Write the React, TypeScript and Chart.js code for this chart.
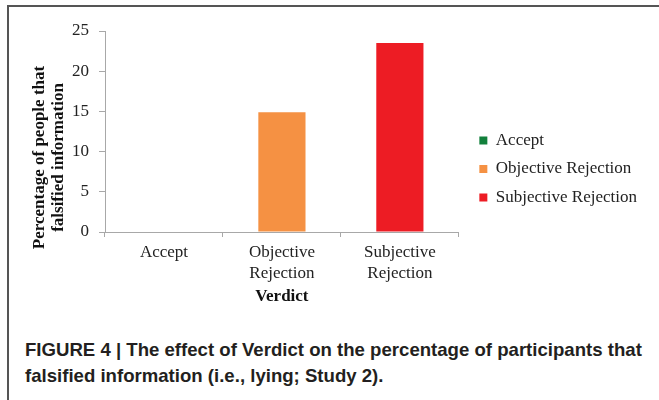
import React, { useEffect, useRef } from "react";
import { Chart, registerables } from "chart.js";

Chart.register(...registerables);

// ---- data ----
const categories: (string | string[])[] = ["Accept", ["Objective", "Rejection"], ["Subjective", "Rejection"]];
const seriesNames = ["Accept", "Objective Rejection", "Subjective Rejection"];
const values = [0, 14.9, 23.5];
const colors = ["#12803c", "#f59143", "#ed1c24"];
const yMin = 0;
const yMax = 25;
const yStep = 5;
const yTitle = ["Percentage of people that", "falsified information"];
const xTitle = "Verdict";
const captionLines = [
  "FIGURE 4 | The effect of Verdict on the percentage of participants that",
  "falsified information (i.e., lying; Study 2).",
];

// Rotated two-line y-axis title, centred a little below the axis centre (as in the source figure)
const yTitlePlugin = {
  id: "yTitleOffset",
  afterDraw(chart: any) {
    const s = chart.scales.y;
    if (!s) return;
    const ctx = chart.ctx;
    const size = 17;
    const lh = 19;
    ctx.save();
    ctx.font = `bold ${size}px 'Liberation Serif', serif`;
    ctx.fillStyle = "#111";
    ctx.textAlign = "center";
    ctx.textBaseline = "middle";
    const cx = s.left + 20 + lh / 2;
    const cy = (s.top + s.bottom) / 2 + 26;
    ctx.translate(cx, cy);
    ctx.rotate(-Math.PI / 2);
    yTitle.forEach((t, i) => ctx.fillText(t, 0, i * lh));
    ctx.restore();
  },
};

export default function App() {
  const ref = useRef<HTMLCanvasElement | null>(null);

  useEffect(() => {
    document.body.style.margin = "0";
    const canvas = ref.current;
    if (!canvas) return;
    const datasets = seriesNames.map((name, i) => ({
      label: name,
      data: values.map((v, j) => (j === i ? v : null)),
      backgroundColor: colors[i],
      borderWidth: 0,
      yAxisID: "y",
      grouped: false,
      barPercentage: 0.4,
      categoryPercentage: 1.0,
    }));
    const axisColor = "#a8a8a8";
    const chart = new Chart(canvas, {
      type: "bar",
      data: { labels: categories as any, datasets },
      plugins: [yTitlePlugin],
      options: {
        animation: false,
        responsive: false,
        maintainAspectRatio: false,
        layout: { padding: { top: 21, left: 0, right: 0, bottom: 13 } },
        plugins: {
          tooltip: { enabled: false },
          legend: {
            display: true,
            position: "right",
            align: "center",
            maxWidth: 300,
            labels: {
              boxWidth: 8,
              boxHeight: 8,
              padding: 11.5,
              color: "#222",
              font: { family: "'Liberation Serif', serif", size: 17 },
            },
          },
        },
        scales: {
          x: {
            grid: { display: true, drawOnChartArea: false, drawTicks: true, tickLength: 5, color: axisColor, offset: true },
            border: { display: true, color: axisColor, width: 1 },
            ticks: {
              color: "#222",
              padding: 6,
              maxRotation: 0,
              font: { family: "'Liberation Serif', serif", size: 17, lineHeight: 1.18 },
            },
            title: {
              display: true,
              text: xTitle,
              color: "#111",
              padding: 0,
              font: { family: "'Liberation Serif', serif", size: 17, weight: "bold" },
            },
            afterFit: (s: any) => {
              s.height = 75;
            },
          },
          y: {
            min: yMin,
            max: yMax,
            position: "left",
            grid: { display: true, drawOnChartArea: false, drawTicks: true, tickLength: 6, color: axisColor },
            border: { display: true, color: axisColor, width: 1 },
            ticks: {
              stepSize: yStep,
              color: "#222",
              padding: 10,
              font: { family: "'Liberation Serif', serif", size: 17 },
            },
            title: { display: false },
            afterFit: (s: any) => {
              s.width = 95;
            },
          },
          gap: {
            type: "linear",
            position: "right",
            display: true,
            grid: { display: false },
            border: { display: false },
            ticks: { display: false },
            afterFit: (s: any) => {
              s.width = 9;
            },
          },
        },
      } as any,
    });
    return () => chart.destroy();
  }, []);

  return (
    <div style={{ position: "relative", width: 659, height: 400, overflow: "hidden", background: "#fff" }}>
      <div
        style={{
          position: "absolute",
          left: 7,
          top: 5,
          width: 700,
          height: 420,
          borderLeft: "2px solid #555",
          borderTop: "2px solid #555",
        }}
      />
      <canvas
        ref={ref}
        width={637}
        height={310}
        style={{ position: "absolute", left: 10, top: 10, width: 637, height: 310 }}
      />
      <div
        style={{
          position: "absolute",
          left: 25,
          top: 337,
          width: 634,
          fontFamily: "'Liberation Sans', Arial, sans-serif",
          fontWeight: "bold",
          fontSize: 18.6,
          lineHeight: "26px",
          color: "#231f20",
          whiteSpace: "nowrap",
        }}
      >
        {captionLines.map((l, i) => (
          <div key={i}>{l}</div>
        ))}
      </div>
    </div>
  );
}
